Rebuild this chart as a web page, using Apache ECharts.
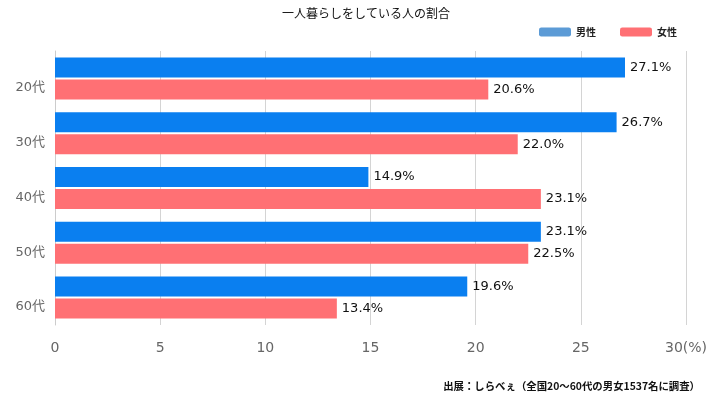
<!DOCTYPE html>
<html>
<head>
<meta charset="utf-8">
<script src="https://cdn.jsdelivr.net/npm/echarts@6/dist/echarts.min.js"></script>
<style>
  html, body { margin: 0; padding: 0; background: #fff; }
  #chart { width: 706px; height: 398px; }
</style>
</head>
<body>
<div id="chart"></div>
<script>
const categories = ["20代", "30代", "40代", "50代", "60代"];
const maleValues = [27.1, 26.7, 14.9, 23.1, 19.6];
const femaleValues = [20.6, 22.0, 23.1, 22.5, 13.4];
const xTicks = [0, 5, 10, 15, 20, 25, 30];

const FONT = '"Noto Sans CJK JP", "Noto Sans", sans-serif';
const NUM_FONT = '"DejaVu Sans", "Noto Sans CJK JP", sans-serif';

const chart = echarts.init(document.getElementById("chart"));

const barLabel = {
  show: true,
  position: "right",
  distance: 5,
  color: "#111",
  fontSize: 13,
  fontFamily: NUM_FONT,
  formatter: (p) => p.value.toFixed(1) + "%"
};

chart.setOption({
  animation: false,
  textStyle: { fontFamily: FONT },
  title: {
    text: "一人暮らしをしている人の割合",
    left: 277,
    top: 2,
    textStyle: { fontSize: 12, fontWeight: "normal", color: "#111", fontFamily: FONT }
  },
  legend: {
    right: 24,
    top: 22,
    itemWidth: 32,
    itemHeight: 9,
    itemGap: 24,
    textStyle: { fontSize: 10, color: "#222", fontWeight: "bold", fontFamily: FONT },
    data: [
      { name: "男性", itemStyle: { color: "#5c9bd6" } },
      { name: "女性", itemStyle: { color: "#ff7074" } }
    ]
  },
  grid: { left: 55, right: 20, top: 51, bottom: 73, containLabel: false, outerBoundsMode: "none" },
  xAxis: {
    type: "value",
    min: 0,
    max: 30,
    interval: 5,
    axisLine: { show: false },
    axisTick: { show: false },
    splitLine: { lineStyle: { color: "#d4d4d4" } },
    axisLabel: {
      color: "#666",
      fontSize: 14,
      margin: 16,
      fontFamily: NUM_FONT,
      formatter: (v) => (v === xTicks[xTicks.length - 1] ? v + "(%)" : String(v))
    }
  },
  yAxis: {
    type: "category",
    data: categories,
    inverse: true,
    axisLine: { show: true, lineStyle: { color: "#cccccc" } },
    axisTick: { show: false },
    axisLabel: {
      color: "#666",
      fontSize: 13,
      margin: 10,
      verticalAlign: "top",
      padding: [3, 0, 0, 0],
      fontFamily: NUM_FONT
    }
  },
  series: [
    {
      name: "男性",
      type: "bar",
      data: maleValues,
      barWidth: 20,
      barGap: "10%",
      itemStyle: { color: "#0a7ff0" },
      label: barLabel
    },
    {
      name: "女性",
      type: "bar",
      data: femaleValues,
      barWidth: 20,
      itemStyle: { color: "#ff7074" },
      label: barLabel
    }
  ],
  graphic: [
    {
      type: "text",
      right: 6,
      top: 381,
      style: {
        text: "出展：しらべぇ（全国20〜60代の男女1537名に調査）",
        fontSize: 10.4,
        fontWeight: "bold",
        fill: "#111",
        fontFamily: FONT
      }
    }
  ]
});
</script>
</body>
</html>
